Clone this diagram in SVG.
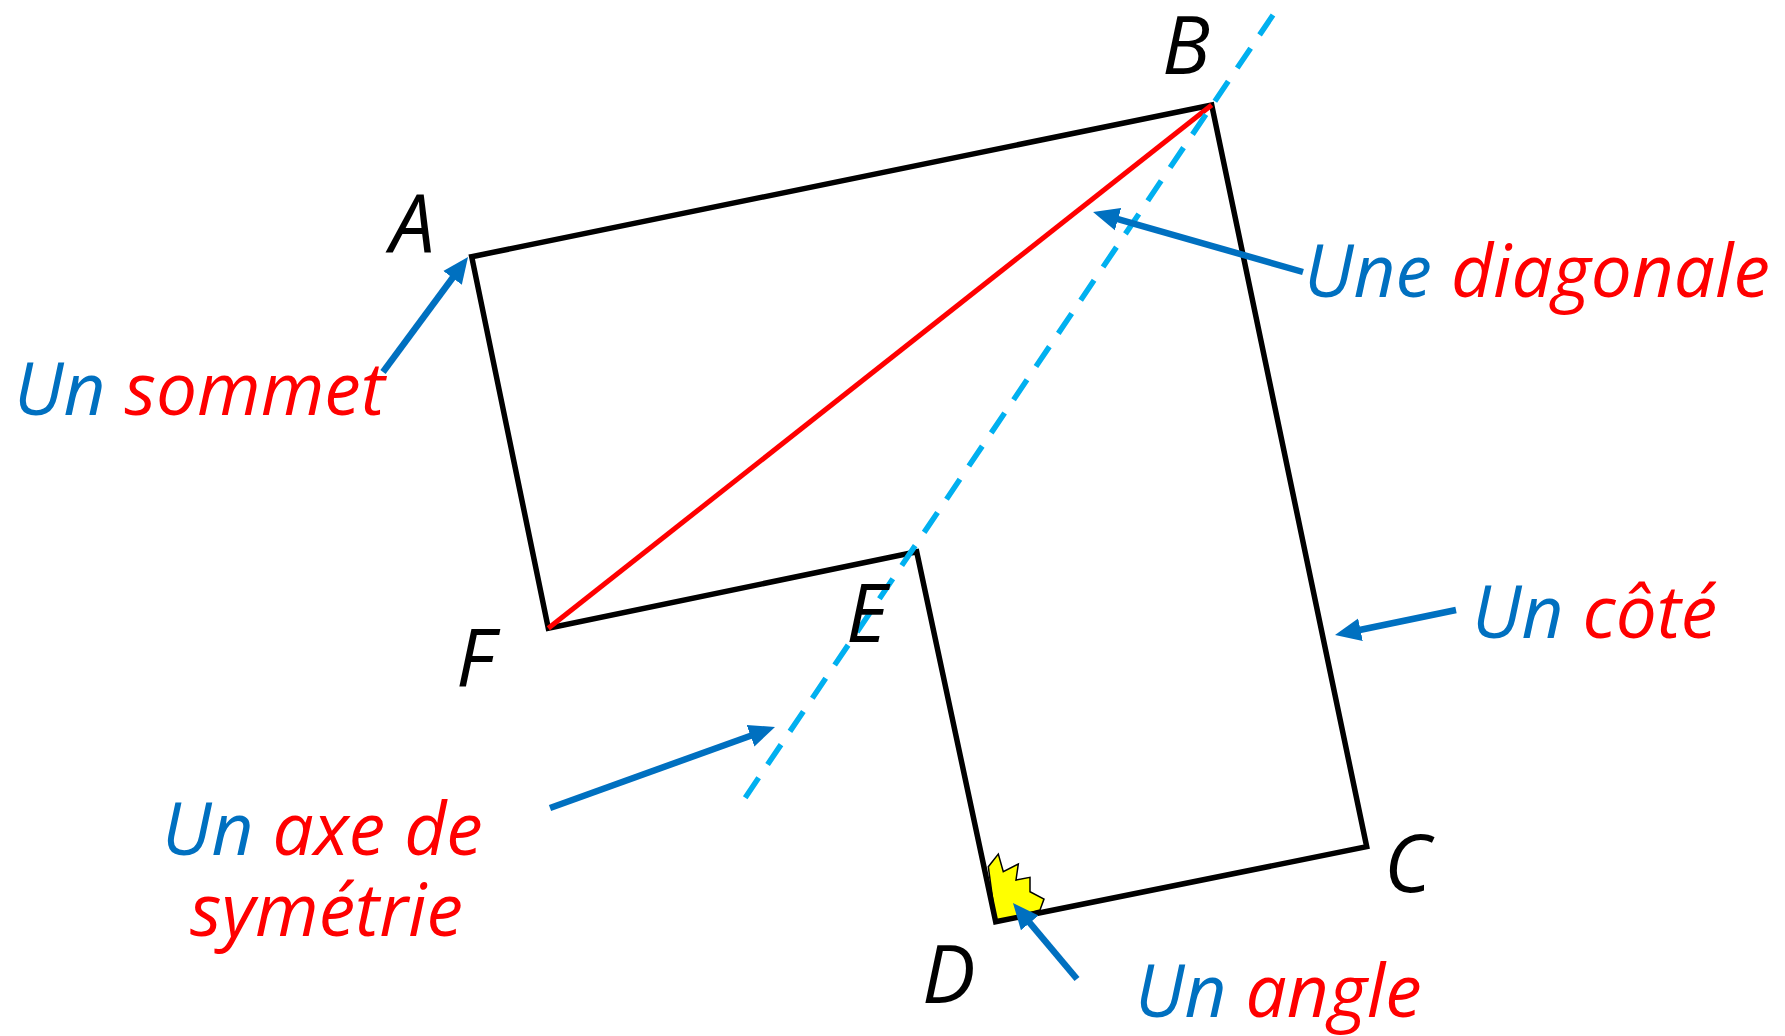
<svg xmlns="http://www.w3.org/2000/svg" width="1785" height="1036" viewBox="0 0 1785 1036">
<style>
.lbl{font-family:"Open Sans","Noto Sans","Liberation Sans",sans-serif;font-style:italic;font-weight:500;font-size:73px}
.pt{font-family:"Open Sans","Noto Sans","Liberation Sans",sans-serif;font-style:italic;font-weight:500;font-size:80px;fill:#000}
.b{fill:#0070C0}.r{fill:#FF0000}
.arr{stroke:#0070C0;stroke-width:6.5;fill:none;marker-end:url(#ah)}
</style>
<defs>
<marker id="ah" markerUnits="userSpaceOnUse" markerWidth="28" markerHeight="24" viewBox="0 0 28 24" refX="12" refY="12" orient="auto">
<path d="M0,0.5 L26,12 L0,23.5 z" fill="#0070C0"/>
</marker>
</defs>
<rect width="1785" height="1036" fill="#fff"/>
<g id="angle-mark">
<polygon points="988.3,866.7 998.3,854 1003.3,871.7 1018.3,864 1016,880 1030,877.3 1030,891.7 1044,899 1040,910 995.7,921.7" fill="#FFFF00" stroke="#000" stroke-width="1.5"/>
</g>
<g id="shape">
<path d="M471.7,256.7 L1211.7,105 L1366.7,846.7 L995.7,921.7 L916.7,551.7 L548.3,628.3 Z" fill="none" stroke="#000" stroke-width="5.5" stroke-linejoin="miter"/>
</g>
<g id="diagonal">
<line x1="548.3" y1="628.3" x2="1211.7" y2="105" stroke="#FF0000" stroke-width="5"/>
</g>
<g id="axis">
<line x1="1273" y1="15" x2="745" y2="798" stroke="#00B0F0" stroke-width="5.5" stroke-dasharray="24 16"/>
</g>
<g id="points">
<text id="pA" class="pt" x="390" y="252">A</text>
<text id="pB" class="pt" x="1162" y="74">B</text>
<text id="pC" class="pt" x="1384" y="892">C</text>
<text id="pD" class="pt" x="922" y="1003">D</text>
<text id="pE" class="pt" x="846" y="642">E</text>
<text id="pF" class="pt" x="456" y="687">F</text>
</g>
<g id="connectors">
<line class="arr" x1="383" y1="372" x2="459.7" y2="268.3"/>
<line class="arr" x1="1303" y1="272" x2="1106.5" y2="215.8"/>
<line class="arr" x1="1456" y1="610" x2="1348.7" y2="632.2"/>
<line class="arr" x1="550" y1="808" x2="761.8" y2="731.7"/>
<line class="arr" x1="1077" y1="979" x2="1022" y2="913.7"/>
</g>
<g id="label-sommet"><text class="lbl" x="14" y="415"><tspan class="b">Un</tspan> <tspan class="r">sommet</tspan></text></g>
<g id="label-diagonale"><text class="lbl" x="1304" y="297"><tspan class="b">Une</tspan> <tspan class="r">diagonale</tspan></text></g>
<g id="label-cote"><text class="lbl" x="1472" y="638"><tspan class="b">Un</tspan> <tspan class="r">côté</tspan></text></g>
<g id="label-axe"><text class="lbl" x="162" y="855"><tspan class="b">Un</tspan> <tspan class="r">axe de</tspan></text>
<text class="lbl r" x="190" y="936">symétrie</text></g>
<g id="label-angle"><text class="lbl" x="1135" y="1017"><tspan class="b">Un</tspan> <tspan class="r">angle</tspan></text></g>
</svg>
